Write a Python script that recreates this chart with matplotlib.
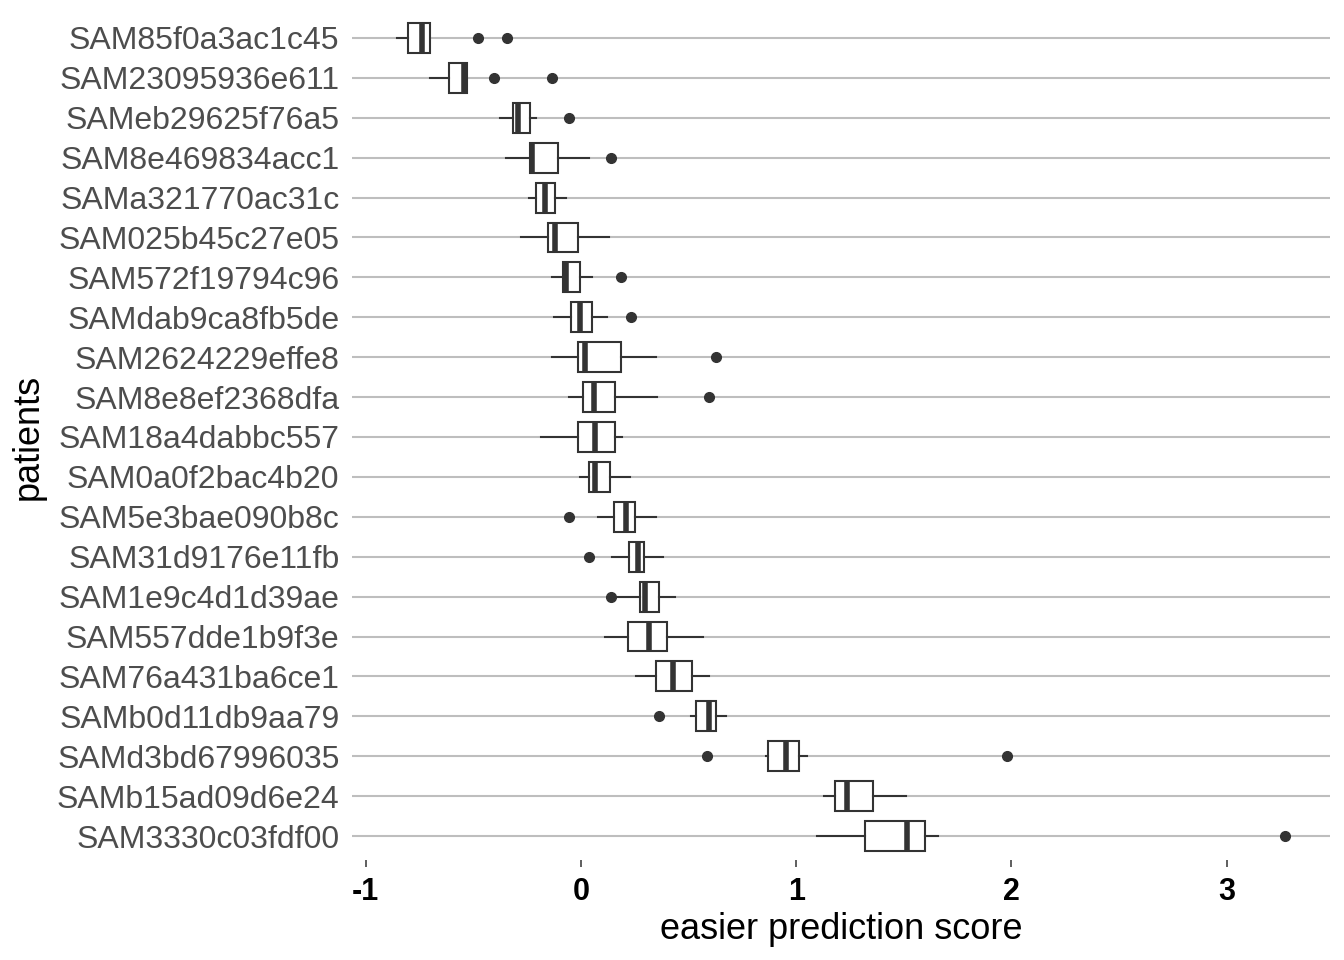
import matplotlib
matplotlib.use('Agg')
import matplotlib.pyplot as plt

plt.rcParams['font.family'] = ['Liberation Sans', 'DejaVu Sans']

# patients listed top to bottom as in the chart
patients = ['SAM85f0a3ac1c45', 'SAM23095936e611', 'SAMeb29625f76a5', 'SAM8e469834acc1',
            'SAMa321770ac31c', 'SAM025b45c27e05', 'SAM572f19794c96', 'SAMdab9ca8fb5de',
            'SAM2624229effe8', 'SAM8e8ef2368dfa', 'SAM18a4dabbc557', 'SAM0a0f2bac4b20',
            'SAM5e3bae090b8c', 'SAM31d9176e11fb', 'SAM1e9c4d1d39ae', 'SAM557dde1b9f3e',
            'SAM76a431ba6ce1', 'SAMb0d11db9aa79', 'SAMd3bd67996035', 'SAMb15ad09d6e24',
            'SAM3330c03fdf00']

whislo = [-0.857, -0.703, -0.376, -0.348, -0.241, -0.278, -0.134, -0.124, -0.134, -0.054, -0.185,
          -0.003, 0.081, 0.146, 0.162, 0.112, 0.256, 0.510, 0.859, 1.130, 1.097]
q1 = [-0.805, -0.614, -0.316, -0.239, -0.207, -0.152, -0.082, -0.045, -0.012, 0.008, -0.016,
      0.036, 0.152, 0.222, 0.274, 0.218, 0.348, 0.535, 0.870, 1.178, 1.319]
med = [-0.740, -0.545, -0.292, -0.230, -0.165, -0.121, -0.071, -0.003, 0.019, 0.061, 0.065,
       0.064, 0.211, 0.263, 0.298, 0.314, 0.426, 0.594, 0.953, 1.237, 1.513]
q3 = [-0.703, -0.530, -0.236, -0.106, -0.120, -0.012, -0.003, 0.053, 0.185, 0.160, 0.160,
      0.137, 0.252, 0.291, 0.361, 0.398, 0.514, 0.626, 1.013, 1.358, 1.596]
whishi = [-0.703, -0.530, -0.207, 0.036, -0.071, 0.129, 0.050, 0.120, 0.348, 0.353, 0.190,
          0.227, 0.348, 0.382, 0.437, 0.567, 0.595, 0.675, 1.052, 1.510, 1.658]
outliers = [[-0.477, -0.342], [-0.402, -0.137], [-0.057], [0.140], [], [], [0.186], [0.233],
            [0.625], [0.597], [], [], [-0.057], [0.037], [0.140], [], [], [0.364],
            [0.586, 1.977], [], [3.273]]

n = len(patients)
positions = [n - i for i in range(n)]
stats = []
for i in range(n):
    stats.append(dict(label=patients[i], whislo=whislo[i], q1=q1[i], med=med[i],
                      q3=q3[i], whishi=whishi[i], fliers=outliers[i]))

fig = plt.figure(figsize=(13.44, 9.6), dpi=100)
ax = fig.add_axes([352 / 1344, 1 - 860 / 960, (1330 - 352) / 1344, (860 - 14) / 960])

dark = '#333333'
for p in positions:
    ax.axhline(p, color='#BEBEBE', lw=1.5, zorder=0)

ax.bxp(stats, positions=positions, vert=False, widths=0.75, patch_artist=True,
       showcaps=False,
       boxprops=dict(facecolor='white', edgecolor=dark, linewidth=1.5),
       whiskerprops=dict(color=dark, linewidth=1.5),
       medianprops=dict(color=dark, linewidth=4, solid_capstyle='butt'),
       flierprops=dict(marker='o', markerfacecolor=dark, markeredgecolor=dark, markersize=7))

ax.set_ylim(0.4, n + 0.6)
ax.set_xlim(-1.064, 3.48)
ax.set_yticks(positions)
ax.set_yticklabels(patients, fontsize=23, color='#4D4D4D')
ax.set_xticks([-1, 0, 1, 2, 3])
ax.set_xticklabels(['-1', '0', '1', '2', '3'], fontsize=22, fontweight='bold', color='black')
ax.tick_params(axis='y', length=0, pad=9)
ax.tick_params(axis='x', length=5, width=1.1, color=dark, pad=7)
for s in ax.spines.values():
    s.set_visible(False)

ax.set_xlabel('easier prediction score', fontsize=26, labelpad=4)
ax.set_ylabel('patients', fontsize=26, labelpad=8)

fig.savefig('out.png', dpi=100, facecolor='white')
